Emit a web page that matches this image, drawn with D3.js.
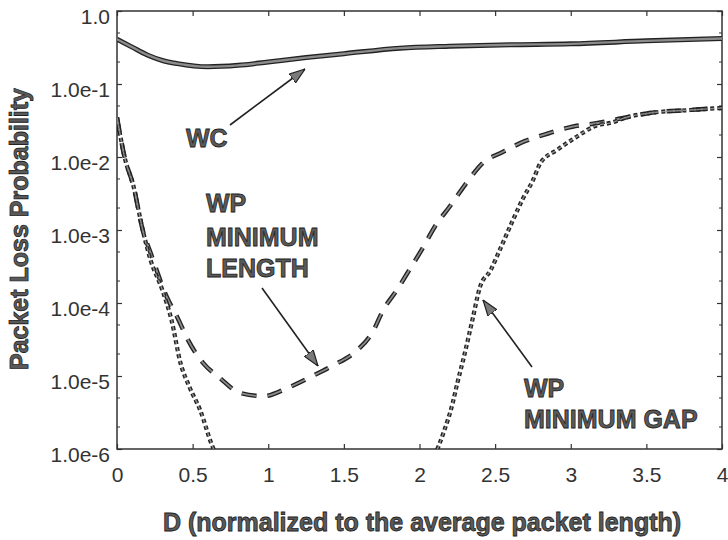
<!DOCTYPE html>
<html>
<head>
<meta charset="utf-8">
<script src="https://cdn.jsdelivr.net/npm/d3@7"></script>
<style>
  body { margin: 0; background: #fff; }
  svg { display: block; }
  .tick text { font-family: "Liberation Sans", Arial, sans-serif; font-size: 21px; fill: #333; }
  .bold { font-family: "Liberation Sans", Arial, sans-serif; font-weight: bold; font-size: 25px; fill: #5a5a5a; stroke: #222; stroke-width: 0.8px; }
</style>
</head>
<body>
<svg id="chart" width="728" height="540"></svg>
<script>
// x values (D) and loss probabilities
var wcX  = [0, 0.1, 0.2, 0.3, 0.4, 0.6, 0.8, 1.0, 1.25, 1.5, 1.87, 2.2, 2.6, 3.0, 3.5, 4.0];
var wcY  = [0.41, 0.32, 0.25, 0.21, 0.19, 0.172, 0.18, 0.2, 0.23, 0.26, 0.31, 0.33, 0.345, 0.355, 0.39, 0.42];

var lenX = [0, 0.05, 0.11, 0.17, 0.22, 0.33, 0.40, 0.47, 0.57, 0.68, 0.81, 0.97, 1.13, 1.28, 1.43, 1.57, 1.69, 1.76, 1.85, 1.94, 2.02, 2.10, 2.20, 2.31, 2.42, 2.55, 2.70, 2.85, 3.01, 3.17, 3.37, 3.52, 3.79, 4.0];
var lenY = [3.5e-2, 1e-2, 3.9e-3, 1e-3, 5e-4, 1.2e-4, 6.3e-5, 3.1e-5, 1.5e-5, 9.4e-6, 5.9e-6, 5.3e-6, 6.9e-6, 9.7e-6, 1.4e-5, 2.1e-5, 4e-5, 8e-5, 1.5e-4, 3e-4, 5.6e-4, 1.1e-3, 2.1e-3, 4.4e-3, 8.3e-3, 1.17e-2, 1.66e-2, 2.1e-2, 2.6e-2, 2.9e-2, 3.5e-2, 4e-2, 4.4e-2, 4.7e-2];

// null = curve below the 1e-6 floor
var gapX = [0, 0.05, 0.11, 0.17, 0.22, 0.30, 0.36, 0.42, 0.48, 0.55, 0.63, 0.66, 1.5, 2.10, 2.16, 2.22, 2.25, 2.29, 2.35, 2.40, 2.47, 2.53, 2.62, 2.68, 2.75, 2.80, 2.91, 3.04, 3.15, 3.28, 3.37, 3.52, 3.79, 4.0];
var gapY = [3.5e-2, 1e-2, 3.9e-3, 1e-3, 4e-4, 1.5e-4, 5.9e-5, 1.5e-5, 7e-6, 3.4e-6, 1.1e-6, 8e-7, null, 8e-7, 1.7e-6, 4.3e-6, 8e-6, 1.7e-5, 5.9e-5, 1.66e-4, 2.8e-4, 5.3e-4, 1.4e-3, 2.6e-3, 4.8e-3, 8.3e-3, 1.25e-2, 1.9e-2, 2.6e-2, 3e-2, 3.5e-2, 4e-2, 4.4e-2, 4.7e-2];

var xTicks = [0, 0.5, 1, 1.5, 2, 2.5, 3, 3.5, 4];
var xTickLabels = ['0', '0.5', '1', '1.5', '2', '2.5', '3', '3.5', '4'];
var yTicks = [1, 1e-1, 1e-2, 1e-3, 1e-4, 1e-5, 1e-6];
var yTickLabels = ['1.0', '1.0e-1', '1.0e-2', '1.0e-3', '1.0e-4', '1.0e-5', '1.0e-6'];

(function(){
    var svg = d3.select('#chart');
    var pL = 117, pR = 722, pT = 11, pB = 449;

    var x = d3.scaleLinear().domain([0, 4]).range([pL, pR]);
    var y = d3.scaleLog().domain([1e-6, 1]).range([pB, pT]);

    var defs = svg.append('defs');
    defs.append('clipPath').attr('id', 'plot')
        .append('rect').attr('x', pL).attr('y', pT).attr('width', pR - pL).attr('height', pB - pT);
    defs.append('marker')
        .attr('id', 'head').attr('markerUnits', 'userSpaceOnUse')
        .attr('viewBox', '0 -6 16 12').attr('refX', 16).attr('refY', 0)
        .attr('markerWidth', 16).attr('markerHeight', 12).attr('orient', 'auto')
        .append('path').attr('d', 'M0,-5.5L16,0L0,5.5Z')
        .attr('fill', '#7a7a7a').attr('stroke', '#222').attr('stroke-width', 1.2);

    // axes
    var gx = svg.append('g').attr('transform', 'translate(0,' + pB + ')')
        .call(d3.axisBottom(x).tickValues(xTicks).tickSizeInner(-5).tickSizeOuter(0)
            .tickFormat(function( d, i ){ return xTickLabels[i]; }));
    gx.selectAll('text').attr('y', 33).attr('dy', 0);

    svg.append('g').attr('transform', 'translate(0,' + pT + ')')
        .call(d3.axisTop(x).tickValues(xTicks).tickSizeInner(-5).tickSizeOuter(0).tickFormat(''));

    var gy = svg.append('g').attr('transform', 'translate(' + pL + ',0)')
        .call(d3.axisLeft(y).tickValues(yTicks).tickSizeInner(-5).tickSizeOuter(0)
            .tickFormat(function( d, i ){ return yTickLabels[i]; }));
    gy.selectAll('text').attr('x', -7).attr('dy', 12);

    svg.append('g').attr('transform', 'translate(' + pR + ',0)')
        .call(d3.axisRight(y).tickValues(yTicks).tickSizeInner(-5).tickSizeOuter(0).tickFormat(''));

    // minor ticks at 5 and 2 in each decade
    var minors = [];
    yTicks.slice(0, -1).forEach(function( t ){ minors.push( t * 0.5, t * 0.2 ); });
    [pL, pR].forEach(function( px ){
        var dir = px === pL ? 1 : -1;
        svg.append('g').selectAll('line').data(minors).join('line')
            .attr('x1', px).attr('x2', px + dir * 3)
            .attr('y1', function( d ){ return y(d); }).attr('y2', function( d ){ return y(d); })
            .attr('stroke', '#333').attr('stroke-width', 1);
    });

    svg.selectAll('.domain').remove();
    svg.selectAll('.tick line').attr('stroke', '#333').attr('stroke-width', 1.2);

    svg.append('rect')
        .attr('x', pL).attr('y', pT).attr('width', pR - pL).attr('height', pB - pT)
        .attr('fill', 'none').attr('stroke', '#333').attr('stroke-width', 1.5);

    // curves
    function series( xs, ys ){
        return xs.map(function( v, i ){ return { x: v, y: ys[i] }; });
    }
    var line = d3.line()
        .defined(function( d ){ return d.y !== null; })
        .x(function( d ){ return x(d.x); })
        .y(function( d ){ return y(d.y); })
        .curve(d3.curveMonotoneX);

    var plot = svg.append('g').attr('clip-path', 'url(#plot)');

    function drawCurve( data, outer, inner, dash ){
        plot.append('path').attr('d', line(data)).attr('fill', 'none')
            .attr('stroke', '#222').attr('stroke-width', outer).attr('stroke-dasharray', dash);
        plot.append('path').attr('d', line(data)).attr('fill', 'none')
            .attr('stroke', '#8c8c8c').attr('stroke-width', inner).attr('stroke-dasharray', dash);
    }

    drawCurve( series(wcX, wcY), 5, 2.4, null );
    drawCurve( series(lenX, lenY), 4.5, 1.8, '15,11' );
    drawCurve( series(gapX, gapY), 4.2, 1.4, '4,3' );

    // labels
    svg.append('text').attr('class', 'bold').attr('x', 422).attr('y', 531)
        .attr('text-anchor', 'middle').text('D (normalized to the average packet length)');
    svg.append('text').attr('class', 'bold')
        .attr('transform', 'translate(28,229) rotate(-90)')
        .attr('text-anchor', 'middle').text('Packet Loss Probability');

    var notes = [
        { x: 186, y: 147, t: 'WC' },
        { x: 206, y: 212, t: 'WP' },
        { x: 206, y: 246, t: 'MINIMUM' },
        { x: 206, y: 277, t: 'LENGTH' },
        { x: 524, y: 397, t: 'WP' },
        { x: 524, y: 428, t: 'MINIMUM GAP' }
    ];
    svg.append('g').selectAll('text').data(notes).join('text')
        .attr('class', 'bold').attr('x', function( d ){ return d.x; }).attr('y', function( d ){ return d.y; })
        .text(function( d ){ return d.t; });

    var arrows = [
        [230, 125, 305, 69],
        [262, 288, 318, 366],
        [532, 367, 483, 300]
    ];
    svg.append('g').selectAll('line').data(arrows).join('line')
        .attr('x1', function( d ){ return d[0]; }).attr('y1', function( d ){ return d[1]; })
        .attr('x2', function( d ){ return d[2]; }).attr('y2', function( d ){ return d[3]; })
        .attr('stroke', '#222').attr('stroke-width', 1.6)
        .attr('marker-end', 'url(#head)');
})();
</script>
</body>
</html>
